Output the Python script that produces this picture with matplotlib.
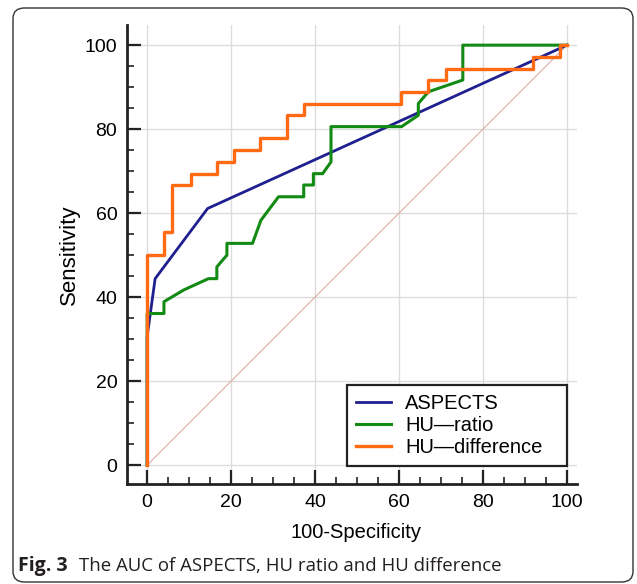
import matplotlib
matplotlib.use("Agg")
import matplotlib.pyplot as plt
from matplotlib.patches import FancyBboxPatch
from matplotlib.ticker import MultipleLocator

# ROC curve points (100-Specificity, Sensitivity)
aspects_x = [0, 0, 1.9, 14.4, 100]
aspects_y = [0, 30.6, 44.4, 61.1, 100]

ratio_x = [0, 0, 4.0, 4.0, 8.7, 14.6, 16.6, 16.6, 19.0, 19.0, 25.1, 27.1, 31.3,
           37.3, 37.3, 39.6, 39.6, 41.8, 43.8, 43.8, 60.6, 64.6, 64.6, 67.0,
           75.2, 75.2, 100]
ratio_y = [0, 36.1, 36.1, 38.9, 41.7, 44.4, 44.4, 47.2, 50.0, 52.8, 52.8, 58.3,
           63.9, 63.9, 66.7, 66.7, 69.4, 69.4, 72.2, 80.6, 80.6, 83.3, 86.1,
           88.9, 91.7, 100, 100]

# step curve: sensitivity rises to diff_y[i] at 100-specificity diff_x[i]
diff_x = [0, 0, 4.0, 6.0, 10.4, 16.6, 20.7, 26.9, 33.4, 37.4, 60.4, 67.0, 71.1,
          92.0, 98.3, 100]
diff_y = [0, 50.0, 55.6, 66.7, 69.4, 72.2, 75.0, 77.8, 83.3, 86.1, 88.9, 91.7,
          94.4, 97.2, 100, 100]

plt.rcParams['font.family'] = ['Liberation Sans', 'DejaVu Sans']

fig = plt.figure(figsize=(6.37, 5.84), dpi=100)

# rounded frame around the whole figure
frame = FancyBboxPatch((13 / 637, 2 / 584), 620 / 637, 574 / 584,
                       boxstyle="round,pad=0,rounding_size=0.018",
                       transform=fig.transFigure, fill=False,
                       edgecolor='#333333', linewidth=1.0)
fig.patches.append(frame)

ax = fig.add_axes([127 / 637, 100 / 584, 450 / 637, 459 / 584])
ax.set_xlim(-4.8, 102.4)
ax.set_ylim(-4.5, 104.8)

ax.plot([0, 100], [0, 100], color='#e0a8a8', lw=0.8, zorder=1)
ax.plot(aspects_x, aspects_y, color='#1f1f8f', lw=2.0, label='ASPECTS', zorder=3)
ax.plot(ratio_x, ratio_y, color='#138a13', lw=2.2, label='HU\u2014ratio', zorder=3)
ax.step(diff_x, diff_y, where='post', color='#ff6a13', lw=2.4,
        label='HU\u2014difference', zorder=4)

ax.xaxis.set_major_locator(MultipleLocator(20))
ax.xaxis.set_minor_locator(MultipleLocator(5))
ax.yaxis.set_major_locator(MultipleLocator(20))
ax.yaxis.set_minor_locator(MultipleLocator(5))
ax.grid(True, which='major', color='#dcdcdc', lw=1.0, zorder=0)
ax.set_axisbelow(True)

for s in ['top', 'right']:
    ax.spines[s].set_visible(False)
for s in ['left', 'bottom']:
    ax.spines[s].set_linewidth(2.0)
    ax.spines[s].set_color('#222222')

ax.tick_params(which='major', direction='in', length=10, width=1.6,
               labelsize=14, pad=7, colors='#222222')
ax.tick_params(which='minor', direction='in', length=5, width=1.2,
               colors='#222222')
ax.tick_params(axis='both', which='both', labelcolor='black')

ax.set_xlabel('100-Specificity', fontsize=14.5)
ax.set_ylabel('Sensitivity', fontsize=16)
ax.xaxis.set_label_coords(0.509, -0.085)
ax.yaxis.set_label_coords(-0.104, 0.5)

leg = ax.legend(loc='lower left', bbox_to_anchor=(0.489, 0.039, 0.489, 0.18),
                mode='expand', borderaxespad=0, fontsize=14.5, fancybox=False,
                edgecolor='#222222', framealpha=1, handlelength=1.75,
                labelspacing=0.14, borderpad=0.45, handletextpad=0.7)
leg.get_frame().set_linewidth(1.6)
leg.set_zorder(5)

fig.text(18 / 637, 18 / 584, 'Fig. 3', fontsize=14, fontweight='bold',
         family=['Open Sans', 'DejaVu Sans'], color='#231f20',
         va='center', ha='left')
fig.text(79 / 637, 18 / 584, 'The AUC of ASPECTS, HU ratio and HU difference',
         fontsize=13.4, family=['Open Sans', 'DejaVu Sans'], color='#231f20',
         va='center', ha='left')

fig.savefig('out.png', dpi=100)
